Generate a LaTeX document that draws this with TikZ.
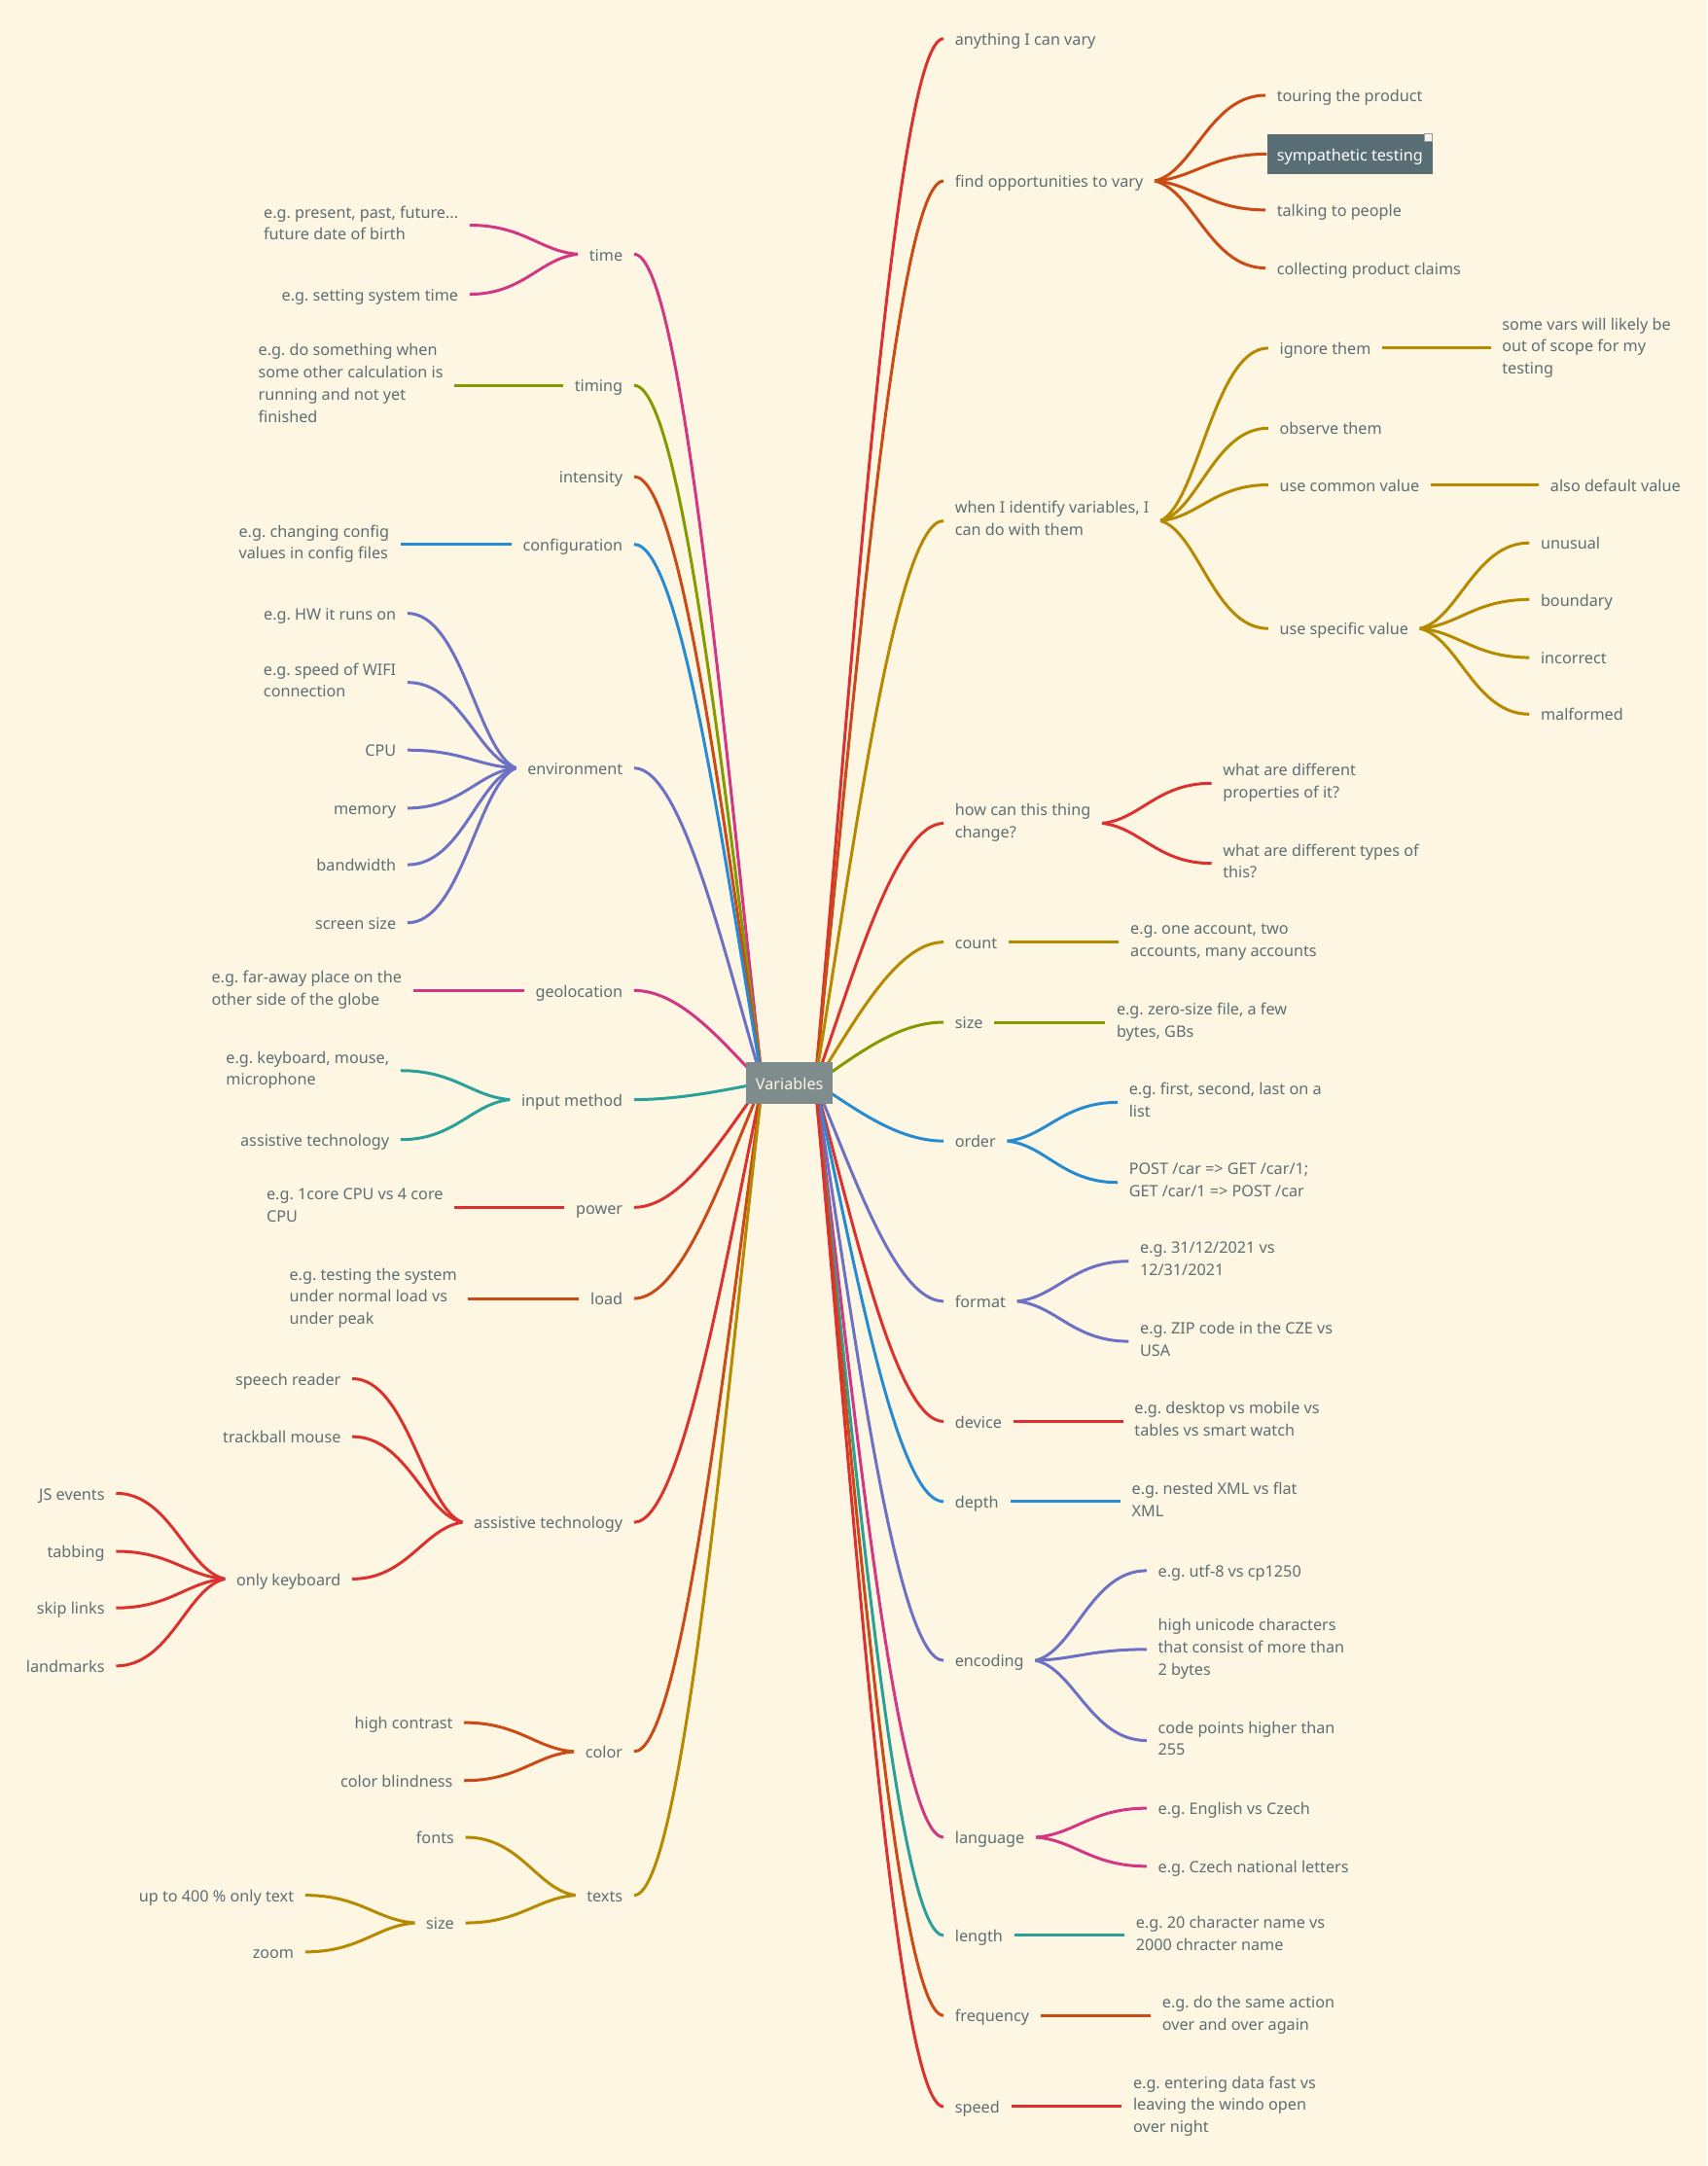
\documentclass[tikz,border=0pt]{standalone}
\usepackage{fontspec}
\setmainfont{Noto Sans}
\usetikzlibrary{calc}
\definecolor{bgc}{HTML}{FDF6E3}
\definecolor{txt}{HTML}{5E6E72}
\definecolor{ctrc}{HTML}{7F8C8D}
\definecolor{symc}{HTML}{596E74}
\definecolor{cred}{HTML}{DC322F}
\definecolor{corange}{HTML}{CB4B16}
\definecolor{cyellow}{HTML}{B58900}
\definecolor{cgreen}{HTML}{859900}
\definecolor{cblue}{HTML}{268BD2}
\definecolor{cviolet}{HTML}{6C71C4}
\definecolor{cmagenta}{HTML}{D33682}
\definecolor{ccyan}{HTML}{2AA198}
\pgfdeclarelayer{bgl}
\pgfdeclarelayer{lines}
\pgfsetlayers{bgl,lines,main}
\frenchspacing
\newcommand{\mstrut}{\rule[-2.34pt]{0pt}{11.36pt}}
\newcommand{\mainbr}[3]{\draw[br,#1] let \p1=(#2),\p2=(#3) in (\p1) .. controls ({\x1+0.28*(\x2-\x1)},{\y1+0.38*(\y2-\y1)}) and ({\x1+0.62*(\x2-\x1)},\y2) .. (\p2);}
\newcommand{\childbr}[3]{\draw[br,#1] let \p1=(#2),\p2=(#3) in (\p1) .. controls ({\x1+0.35*(\x2-\x1)},{\y1+0.1*(\y2-\y1)}) and ({\x1+0.5*(\x2-\x1)},\y2) .. (\p2);}
\newcommand{\straightbr}[3]{\draw[br,#1] (#2) -- (#3);}
\begin{document}
\frenchspacing
\begin{tikzpicture}[x=0.71pt,y=-0.71pt,
  tp/.style={font=\fontsize{8.1pt}{11.36pt}\selectfont\frenchspacing, text=txt, inner xsep=5.68pt, inner ysep=0pt, align=left,
    execute at begin node=\mstrut, execute at end node=\mstrut},
  tr/.style={tp,anchor=west},
  tl/.style={tp,anchor=east},
  br/.style={line width=1.5pt}]
\begin{pgfonlayer}{bgl}
\fill[bgc] (0,0) rectangle (1236,1568);
\end{pgfonlayer}
\useasboundingbox (0,0) rectangle (1236,1568);

\node[tp, fill=ctrc, text=bgc, minimum width=44.7pt, minimum height=21.3pt, inner xsep=0pt, align=center] (ctr) at (571.5,784) {Variables};
\coordinate (sr) at ($(ctr.center)+(18.5,0)$);
\coordinate (sl) at ($(ctr.center)+(-19.5,0)$);

% ---------- right side ----------
\node[tr] (r1) at (683,28) {anything I can vary};
\node[tr] (r2) at (683,131) {find opportunities to vary};
\node[tr] (r2a) at (916,69) {touring the product};
\node[tr, fill=symc, text=white, minimum height=20.6pt, inner xsep=4.97pt] (r2b) at (917,111.5) {sympathetic testing};
\node[draw=black!40, fill=black!5, line width=0.4pt, minimum size=4pt, inner sep=0pt, anchor=north east] (r2bm) at (r2b.north east) {};
\node[tr] (r2c) at (916,152) {talking to people};
\node[tr] (r2d) at (916,194) {collecting product claims};
\node[tr] (r3) at (683,377) {when I identify variables, I\\can do with them};
\node[tr] (r3a) at (918,252) {ignore them};
\node[tr] (r3a1) at (1079,252) {some vars will likely be\\out of scope for my\\testing};
\node[tr] (r3b) at (918,310) {observe them};
\node[tr] (r3c) at (918,351) {use common value};
\node[tr] (r3c1) at (1114,351) {also default value};
\node[tr] (r3d) at (918,455) {use specific value};
\node[tr] (r3d1) at (1107,393) {unusual};
\node[tr] (r3d2) at (1107,434) {boundary};
\node[tr] (r3d3) at (1107,476) {incorrect};
\node[tr] (r3d4) at (1107,517) {malformed};
\node[tr] (r4) at (683,596) {how can this thing\\change?};
\node[tr] (r4a) at (877,567) {what are different\\properties of it?};
\node[tr] (r4b) at (877,625) {what are different types of\\this?};
\node[tr] (r5) at (683,682) {count};
\node[tr] (r5a) at (810,682) {e.g. one account, two\\accounts, many accounts};
\node[tr] (r6) at (683,740) {size};
\node[tr] (r6a) at (800,740) {e.g. zero-size file, a few\\bytes, GBs};
\node[tr] (r7) at (683,826) {order};
\node[tr] (r7a) at (809,798) {e.g. first, second, last on a\\list};
\node[tr] (r7b) at (809,856) {POST /car => GET /car/1;\\GET /car/1 => POST /car};
\node[tr] (r8) at (683,942) {format};
\node[tr] (r8a) at (817,913) {e.g. 31/12/2021 vs\\12/31/2021};
\node[tr] (r8b) at (817,971) {e.g. ZIP code in the CZE vs\\USA};
\node[tr] (r9) at (683,1029) {device};
\node[tr] (r9a) at (813,1029) {e.g. desktop vs mobile vs\\tables vs smart watch};
\node[tr] (r10) at (683,1087) {depth};
\node[tr] (r10a) at (811,1087) {e.g. nested XML vs flat\\XML};
\node[tr] (r11) at (683,1202) {encoding};
\node[tr] (r11a) at (830,1137) {e.g. utf-8 vs cp1250};
\node[tr] (r11b) at (830,1194) {high unicode characters\\that consist of more than\\2 bytes};
\node[tr] (r11c) at (830,1260) {code points higher than\\255};
\node[tr] (r12) at (683,1330) {language};
\node[tr] (r12a) at (830,1309) {e.g. English vs Czech};
\node[tr] (r12b) at (830,1351) {e.g. Czech national letters};
\node[tr] (r13) at (683,1401) {length};
\node[tr] (r13a) at (814,1401) {e.g. 20 character name vs\\2000 chracter name};
\node[tr] (r14) at (683,1459) {frequency};
\node[tr] (r14a) at (833,1459) {e.g. do the same action\\over and over again};
\node[tr] (r15) at (683,1525) {speed};
\node[tr] (r15a) at (812,1525) {e.g. entering data fast vs\\leaving the windo open\\over night};

% ---------- left side ----------
\node[tl] (l1) at (459,184) {time};
\node[tl] (l1a) at (340,163) {e.g. present, past, future...\\future date of birth};
\node[tl] (l1b) at (340,213) {e.g. setting system time};
\node[tl] (l2) at (459,279) {timing};
\node[tl] (l2a) at (329,279) {e.g. do something when\\some other calculation is\\running and not yet\\finished};
\node[tl] (l3) at (459,345) {intensity};
\node[tl] (l4) at (459,394) {configuration};
\node[tl] (l4a) at (290,394) {e.g. changing config\\values in config files};
\node[tl] (l5) at (459,556) {environment};
\node[tl] (l5a) at (295,444) {e.g. HW it runs on};
\node[tl] (l5b) at (295,494) {e.g. speed of WIFI\\connection};
\node[tl] (l5c) at (295,543) {CPU};
\node[tl] (l5d) at (295,585) {memory};
\node[tl] (l5e) at (295,626) {bandwidth};
\node[tl] (l5f) at (295,668) {screen size};
\node[tl] (l6) at (459,717) {geolocation};
\node[tl] (l6a) at (299,717) {e.g. far-away place on the\\other side of the globe};
\node[tl] (l7) at (459,796) {input method};
\node[tl] (l7a) at (290,775) {e.g. keyboard, mouse,\\microphone};
\node[tl] (l7b) at (290,825) {assistive technology};
\node[tl] (l8) at (459,874) {power};
\node[tl] (l8a) at (329,874) {e.g. 1core CPU vs 4 core\\CPU};
\node[tl] (l9) at (459,940) {load};
\node[tl] (l9a) at (339,940) {e.g. testing the system\\under normal load vs\\under peak};
\node[tl] (l10) at (459,1102) {assistive technology};
\node[tl] (l10a) at (255,998) {speech reader};
\node[tl] (l10b) at (255,1040) {trackball mouse};
\node[tl] (l10c) at (255,1143) {only keyboard};
\node[tl] (l10c1) at (84,1081) {JS events};
\node[tl] (l10c2) at (84,1123) {tabbing};
\node[tl] (l10c3) at (84,1164) {skip links};
\node[tl] (l10c4) at (84,1206) {landmarks};
\node[tl] (l11) at (459,1268) {color};
\node[tl] (l11a) at (336,1247) {high contrast};
\node[tl] (l11b) at (336,1289) {color blindness};
\node[tl] (l12) at (459,1372) {texts};
\node[tl] (l12a) at (337,1330) {fonts};
\node[tl] (l12b) at (337,1392) {size};
\node[tl] (l12b1) at (221,1372) {up to 400 \% only text};
\node[tl] (l12b2) at (221,1413) {zoom};

\begin{pgfonlayer}{lines}
% right main
\mainbr{cred}{sr}{r1.west}
\mainbr{corange}{sr}{r2.west}
\mainbr{cyellow}{sr}{r3.west}
\mainbr{cred}{sr}{r4.west}
\mainbr{cyellow}{sr}{r5.west}
\mainbr{cgreen}{sr}{r6.west}
\mainbr{cblue}{sr}{r7.west}
\mainbr{cviolet}{sr}{r8.west}
\mainbr{cred}{sr}{r9.west}
\mainbr{cblue}{sr}{r10.west}
\mainbr{cviolet}{sr}{r11.west}
\mainbr{cmagenta}{sr}{r12.west}
\mainbr{ccyan}{sr}{r13.west}
\mainbr{corange}{sr}{r14.west}
\mainbr{cred}{sr}{r15.west}
% right children
\childbr{corange}{r2.east}{r2a.west}
\childbr{corange}{r2.east}{r2b.west}
\childbr{corange}{r2.east}{r2c.west}
\childbr{corange}{r2.east}{r2d.west}
\childbr{cyellow}{r3.east}{r3a.west}
\childbr{cyellow}{r3.east}{r3b.west}
\childbr{cyellow}{r3.east}{r3c.west}
\childbr{cyellow}{r3.east}{r3d.west}
\straightbr{cyellow}{r3a.east}{r3a1.west}
\straightbr{cyellow}{r3c.east}{r3c1.west}
\childbr{cyellow}{r3d.east}{r3d1.west}
\childbr{cyellow}{r3d.east}{r3d2.west}
\childbr{cyellow}{r3d.east}{r3d3.west}
\childbr{cyellow}{r3d.east}{r3d4.west}
\childbr{cred}{r4.east}{r4a.west}
\childbr{cred}{r4.east}{r4b.west}
\straightbr{cyellow}{r5.east}{r5a.west}
\straightbr{cgreen}{r6.east}{r6a.west}
\childbr{cblue}{r7.east}{r7a.west}
\childbr{cblue}{r7.east}{r7b.west}
\childbr{cviolet}{r8.east}{r8a.west}
\childbr{cviolet}{r8.east}{r8b.west}
\straightbr{cred}{r9.east}{r9a.west}
\straightbr{cblue}{r10.east}{r10a.west}
\childbr{cviolet}{r11.east}{r11a.west}
\childbr{cviolet}{r11.east}{r11b.west}
\childbr{cviolet}{r11.east}{r11c.west}
\childbr{cmagenta}{r12.east}{r12a.west}
\childbr{cmagenta}{r12.east}{r12b.west}
\straightbr{ccyan}{r13.east}{r13a.west}
\straightbr{corange}{r14.east}{r14a.west}
\straightbr{cred}{r15.east}{r15a.west}
% left main
\mainbr{cmagenta}{sl}{l1.east}
\mainbr{cgreen}{sl}{l2.east}
\mainbr{corange}{sl}{l3.east}
\mainbr{cblue}{sl}{l4.east}
\mainbr{cviolet}{sl}{l5.east}
\mainbr{cmagenta}{sl}{l6.east}
\mainbr{ccyan}{sl}{l7.east}
\mainbr{cred}{sl}{l8.east}
\mainbr{corange}{sl}{l9.east}
\mainbr{cred}{sl}{l10.east}
\mainbr{corange}{sl}{l11.east}
\mainbr{cyellow}{sl}{l12.east}
% left children
\childbr{cmagenta}{l1.west}{l1a.east}
\childbr{cmagenta}{l1.west}{l1b.east}
\straightbr{cgreen}{l2.west}{l2a.east}
\straightbr{cblue}{l4.west}{l4a.east}
\childbr{cviolet}{l5.west}{l5a.east}
\childbr{cviolet}{l5.west}{l5b.east}
\childbr{cviolet}{l5.west}{l5c.east}
\childbr{cviolet}{l5.west}{l5d.east}
\childbr{cviolet}{l5.west}{l5e.east}
\childbr{cviolet}{l5.west}{l5f.east}
\straightbr{cmagenta}{l6.west}{l6a.east}
\childbr{ccyan}{l7.west}{l7a.east}
\childbr{ccyan}{l7.west}{l7b.east}
\straightbr{cred}{l8.west}{l8a.east}
\straightbr{corange}{l9.west}{l9a.east}
\childbr{cred}{l10.west}{l10a.east}
\childbr{cred}{l10.west}{l10b.east}
\childbr{cred}{l10.west}{l10c.east}
\childbr{cred}{l10c.west}{l10c1.east}
\childbr{cred}{l10c.west}{l10c2.east}
\childbr{cred}{l10c.west}{l10c3.east}
\childbr{cred}{l10c.west}{l10c4.east}
\childbr{corange}{l11.west}{l11a.east}
\childbr{corange}{l11.west}{l11b.east}
\childbr{cyellow}{l12.west}{l12a.east}
\childbr{cyellow}{l12.west}{l12b.east}
\childbr{cyellow}{l12b.west}{l12b1.east}
\childbr{cyellow}{l12b.west}{l12b2.east}
\end{pgfonlayer}
\end{tikzpicture}
\end{document}
